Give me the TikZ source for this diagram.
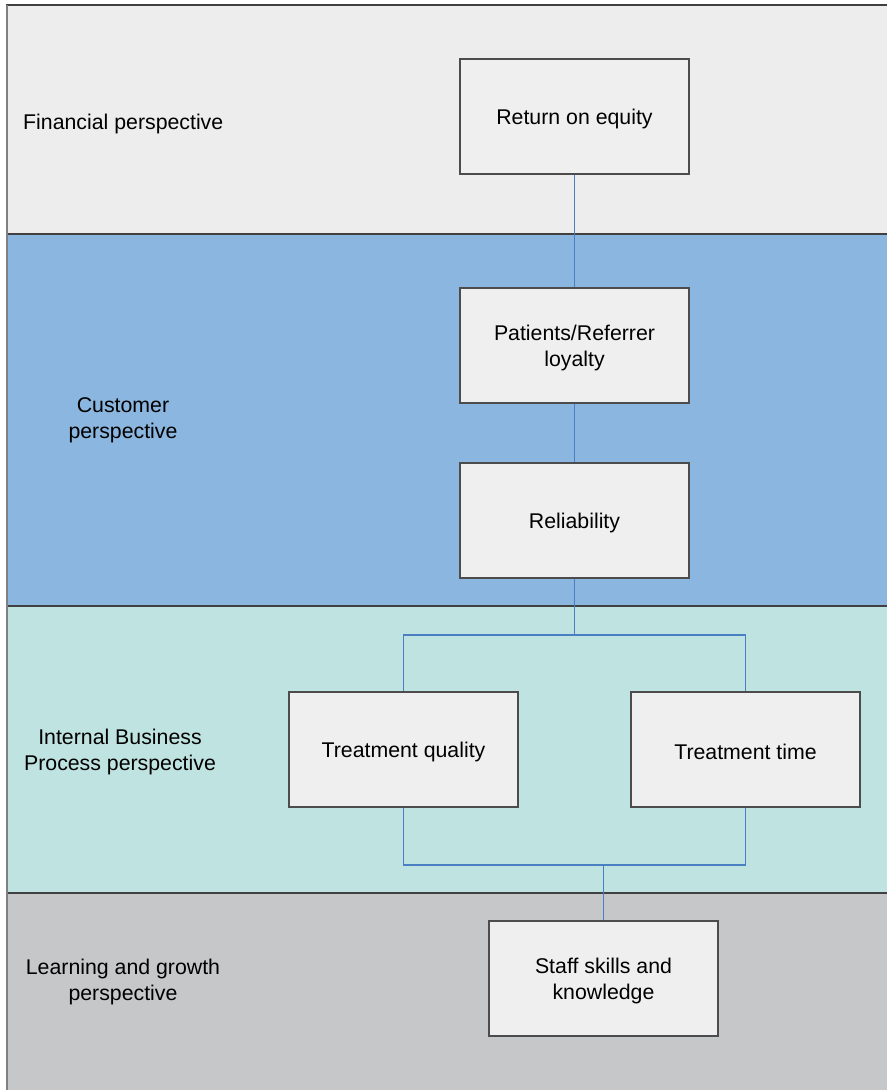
\documentclass[tikz,border=0pt]{standalone}
\usepackage{fontspec}
\setmainfont{Liberation Sans}
\begin{document}
\begin{tikzpicture}[x=1pt,y=-1pt,
  band/.style={draw=black!75,line width=1.2pt},
  box/.style={draw=black!70,line width=1.2pt,fill=boxgray,minimum width=229pt,minimum height=115pt,inner sep=0pt},
  txt/.style={align=center,font=\fontsize{21.3}{26}\selectfont,inner sep=0pt,yshift=-2.5pt},
  lbl/.style={txt},
  link/.style={draw=linkblue,line width=1.4pt}]
\definecolor{boxgray}{HTML}{EFEFEF}
\definecolor{finfill}{HTML}{EDEDED}
\definecolor{custfill}{HTML}{8AB6DF}
\definecolor{intfill}{HTML}{BFE3E0}
\definecolor{learnfill}{HTML}{C6C7C9}
\definecolor{linkblue}{HTML}{4A80C2}
\useasboundingbox (0,0) rectangle (887,1090);
% perspective bands
\fill[finfill] (6,5) rectangle (887,234);
\fill[custfill] (6,234) rectangle (887,606);
\fill[intfill] (6,606) rectangle (887,893);
\fill[learnfill] (6,893) rectangle (887,1090);
\draw[band] (6,5) -- (887,5);
\draw[band] (6,234) -- (887,234);
\draw[band] (6,606) -- (887,606);
\draw[band] (6,893) -- (887,893);
\draw[draw=black!50,line width=2pt] (7,5) -- (7,1090);
% perspective labels
\node[lbl,anchor=west] (lfin) at (23,121) {Financial perspective};
\node[lbl] (lcust) at (123,418) {Customer\\perspective};
\node[lbl] (lint) at (120,749) {Internal Business\\Process perspective};
\node[lbl] (llearn) at (123,979) {Learning and growth\\perspective};
% measures: frame nodes and their captions
\node[box] (roe) at (574.5,116.5) {};
\node[box] (loy) at (574.5,345.5) {};
\node[box] (rel) at (574.5,520.5) {};
\node[box] (tq) at (403.5,749.5) {};
\node[box] (tt) at (745.5,749.5) {};
\node[box] (staff) at (603.5,978.5) {};
\node[txt] (roeT) at (roe.center) {Return on equity};
\node[txt] (loyT) at (loy.center) {Patients/Referrer\\loyalty};
\node[txt] (relT) at (rel.center) {Reliability};
\node[txt] (tqT) at (tq.center) {Treatment quality};
\node[txt] (ttT) at (tt.center) {Treatment time};
\node[txt] (staffT) at (staff.center) {Staff skills and\\knowledge};
\coordinate (split) at (574.5,635);
\coordinate (join) at (603.5,865);
% links
\draw[link] (roe.south) -- (loy.north);
\draw[link] (loy.south) -- (rel.north);
\draw[link] (rel.south) -- (split);
\draw[link] (tq.north) |- (split) -| (tt.north);
\draw[link] (tq.south) |- (join) -| (tt.south);
\draw[link] (join) -- (staff.north);
\end{tikzpicture}
\end{document}
